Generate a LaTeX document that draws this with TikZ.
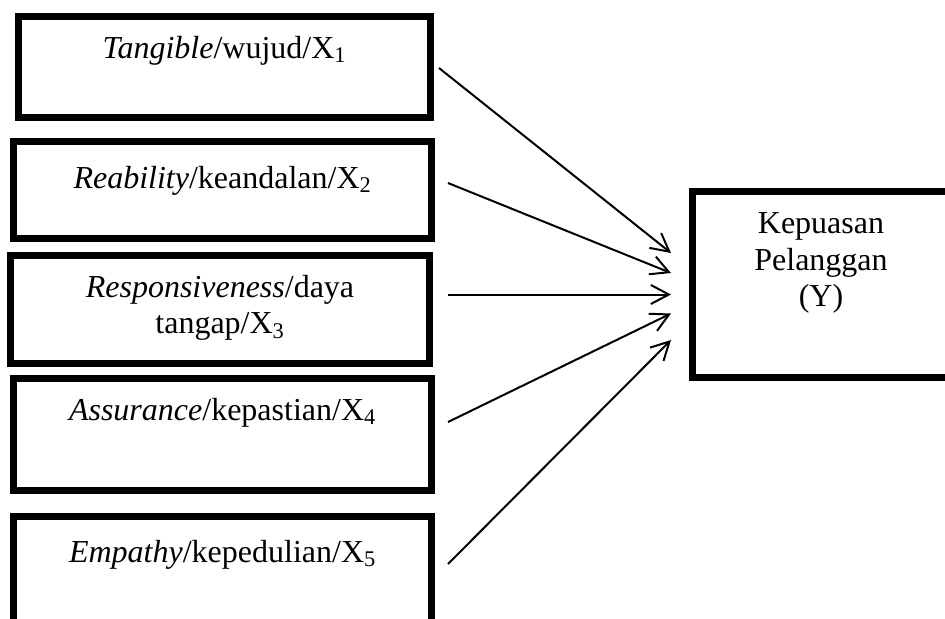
\documentclass[tikz,border=0pt]{standalone}
\usepackage{fontspec}
\setmainfont{Liberation Serif}
\usetikzlibrary{positioning, arrows.meta}
\newlength\pxu
\setlength\pxu{0.75pt}

\begin{document}
\begin{tikzpicture}[x=0.75pt, y=-0.75pt,
    varbox/.style={draw, line width=7\pxu, inner sep=0pt, outer sep=0pt},
    boxtext/.style={anchor=base, align=center, inner sep=0pt,
                    font=\fontsize{24}{27}\selectfont},
    link/.style={line width=1.5pt,
                 -{Straight Barb[length=13.5pt, width=14.25pt, line width=1.5pt]}}]
  \useasboundingbox (0,0) rectangle (945,618);
  \clip (0,0) rectangle (945,618);

  % variabel X
  \node[varbox, minimum width=412\pxu, minimum height=101\pxu] (tang) at (224.5,67) {};
  \node[varbox, minimum width=418\pxu, minimum height=97.5\pxu] (reab) at (222.5,189.75) {};
  \node[varbox, minimum width=419\pxu, minimum height=108\pxu] (resp) at (220,309.5) {};
  \node[varbox, minimum width=418\pxu, minimum height=112\pxu] (assu) at (222.5,434.5) {};
  \node[varbox, minimum width=418\pxu, minimum height=124\pxu] (empa) at (222.5,578.5) {};
  % variabel Y
  \node[varbox, minimum width=257\pxu, minimum height=186\pxu] (kepu) at (821,284.5) {};

  % base = baseline of the last line
  \node[boxtext] (tangtxt) at ([yshift=-41.5\pxu]tang.north) {\textit{Tangible}/wujud/X\textsubscript{1}};
  \node[boxtext] (reabtxt) at ([yshift=-47\pxu]reab.north) {\textit{Reability}/keandalan/X\textsubscript{2}};
  \node[boxtext] (resptxt) at ([yshift=-77.8\pxu]resp.north) {\textit{Responsiveness}/daya\\ tangap/X\textsubscript{3}};
  \node[boxtext] (assutxt) at ([yshift=-41.5\pxu]assu.north) {\textit{Assurance}/kepastian/X\textsubscript{4}};
  \node[boxtext] (empatxt) at ([yshift=-45.5\pxu]empa.north) {\textit{Empathy}/kepedulian/X\textsubscript{5}};
  \node[boxtext, font=\fontsize{24}{27.5}\selectfont] (keputxt) at ([yshift=-115.2\pxu]kepu.north) {Kepuasan\\ Pelanggan\\ (Y)};

  % panah X -> Y
  \draw[link] ([shift={(8.5,1)}]tang.east) -- ([shift={(-21.5,-31.5)}]kepu.west);
  \draw[link] ([shift={(16.5,-6.75)}]reab.east) -- ([shift={(-21.5,-11.5)}]kepu.west);
  \draw[link] ([shift={(18.5,-15)}]resp.east) -- ([shift={(-21.5,10)}]kepu.west);
  \draw[link] ([shift={(16.5,-12.5)}]assu.east) -- ([shift={(-21.5,29)}]kepu.west);
  \draw[link] ([shift={(16.5,47.5)}]empa.north east) -- ([shift={(-21.5,55.5)}]kepu.west);
\end{tikzpicture}
\end{document}
